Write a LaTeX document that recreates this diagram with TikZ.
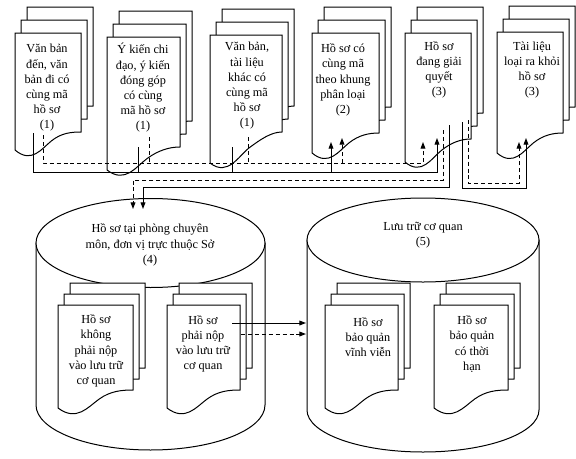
\documentclass[tikz,border=0pt]{standalone}
\usepackage{fontspec}
\setmainfont{Liberation Serif}
\usetikzlibrary{arrows.meta}

\tikzset{every picture/.style={line width=0.75pt}}
\tikzset{
  sheet/.style={draw, fill=white},
  txt/.style={align=center, inner sep=0.75pt, font=\fontsize{9.2}{11.4}\selectfont},
  flow/.style={-{Triangle[length=5pt,width=3.6pt]}},
  dashflow/.style={dash pattern=on 3pt off 2.2pt},
  % stack of three pages: width, left bottom, right bottom, shift up
  pics/docstack/.style n args={4}{code={
    \begin{scope}[yscale=-1]
    \foreach \k in {2,1,0}{
      \draw[sheet, shift={(6*\k,-#4*\k)}] (0,0) -- (#1,0) -- (#1,#3)
        .. controls (0.85*#1,#3) and (0.7*#1,{(#2+#3)/2-8}) .. (0.55*#1,{(#2+#3)/2})
        .. controls (0.4*#1,{(#2+#3)/2+8}) and (0.25*#1,#2+14) .. (0,#2) -- cycle;
    }
    \end{scope}
  }}
}

\begin{document}
\begin{tikzpicture}[x=0.75pt,y=0.75pt,yscale=-1,xscale=1]
\useasboundingbox (0,0) rectangle (576,458);

%Cylinder A
\draw[sheet] (36,243) -- (36,405) arc[start angle=180,end angle=0,x radius=114.5,y radius=45] -- (265,243) -- cycle;
\draw[sheet] (150.5,243) ellipse [x radius=114.5,y radius=44.5];
%Cylinder B
\draw[sheet] (307,240) -- (307,410) arc[start angle=180,end angle=0,x radius=116,y radius=42] -- (539,240) -- cycle;
\draw[sheet] (423,240) ellipse [x radius=116,y radius=42];

%Top row of documents
\pic at (15,33) {docstack={66}{117}{99}{13}};
\pic at (107,37) {docstack={73}{133}{110}{13}};
\pic at (210,35) {docstack={72}{128}{97}{13}};
\pic at (312,33) {docstack={67}{120}{100}{13}};
\pic at (405,33) {docstack={66}{129}{106}{13}};
\pic at (497,32) {docstack={66}{121}{101}{13}};
%Documents inside the cylinders
\pic at (58,305) {docstack={75}{103}{85}{11}};
\pic at (167,305) {docstack={73}{103}{85}{11}};
\pic at (325,305) {docstack={73}{103}{85}{11}};
\pic at (434,305) {docstack={74}{103}{85}{11}};

% Text Nodes
\node[txt] (vb) at (47,88) {Văn bản\\đến, văn\\bản đi có\\cùng mã\\hồ sơ\\(1)};
\node[txt] (yk) at (143,88) {Ý kiến chi\\đạo, ý kiến\\đóng góp\\có cùng\\mã hồ sơ\\(1)};
\node[txt] (tl) at (247,86) {Văn bản,\\tài liệu\\khác có\\cùng mã\\hồ sơ\\(1)};
\node[txt] (kp) at (343,80) {Hồ sơ có\\cùng mã\\theo khung\\phân loại\\(2)};
\node[txt] (gq) at (439,70) {Hồ sơ\\đang giải\\quyết\\(3)};
\node[txt] (lr) at (532,70) {Tài liệu\\loại ra khỏi\\hồ sơ\\(3)};
\node[txt] (pcm) at (150,245) {Hồ sơ tại phòng chuyên\\môn, đơn vị trực thuộc Sở\\(4)};
\node[txt] (lcq) at (423,235) {Lưu trữ cơ quan\\(5)};
\node[txt] (knp) at (96,351) {Hồ sơ\\không\\phải nộp\\vào lưu trữ\\cơ quan};
\node[txt] (pn) at (203,344) {Hồ sơ\\phải nộp\\vào lưu trữ\\cơ quan};
\node[txt] (vv) at (368,337) {Hồ sơ\\bảo quản\\vĩnh viễn};
\node[txt] (th) at (472,344) {Hồ sơ\\bảo quản\\có thời\\hạn};

% connector ends
\coordinate (o1s) at (33,133);  \coordinate (o1d) at (43,135);
\coordinate (o2s) at (138,147); \coordinate (o2d) at (149,137);
\coordinate (o3s) at (232,147); \coordinate (o3d) at (248,137);
\coordinate (i4s) at (331,142); \coordinate (i4d) at (342,138);
\coordinate (i5s) at (437,138); \coordinate (i5d) at (423,142);
\coordinate (o5s) at (449,125); \coordinate (o5d) at (443,130);
\coordinate (o5t) at (462,122); \coordinate (o5e) at (468,120);
\coordinate (i6s) at (526,138); \coordinate (i6d) at (519,142);
\coordinate (cAs) at (143,209); \coordinate (cAd) at (133,209);
\coordinate (o8s) at (232,323); \coordinate (o8d) at (241,334);
\coordinate (cBs) at (306,323); \coordinate (cBd) at (306,334);
\coordinate (busS) at (0,172);  \coordinate (busD) at (0,163);
\coordinate (busA) at (0,187);  \coordinate (busAd) at (0,180);
\coordinate (busB) at (0,188);  \coordinate (busBd) at (0,183);

% solid lines
\draw[flow] (o1s) |- (i5s |- busS) -- (i5s);
\draw (o2s) -- (o2s |- busS);
\draw (o3s) -- (o3s |- busS);
\draw[flow] (i4s |- busS) -- (i4s);
\draw[flow] (o5s) -- (o5s |- busA) -| (cAs);
\draw[flow] (o5t) -- (o5t |- busB) -| (i6s);
\draw[flow] (o8s) -- (cBs);
% dashed lines
\draw[flow, dashflow] (o1d) |- (i5d |- busD) -- (i5d);
\draw[dashflow] (o2d) -- (o2d |- busD);
\draw[dashflow] (o3d) -- (o3d |- busD);
\draw[flow, dashflow] (i4d |- busD) -- (i4d);
\draw[flow, dashflow] (o5d) -- (o5d |- busAd) -| (cAd);
\draw[flow, dashflow] (o5e) -- (o5e |- busBd) -| (i6d);
\draw[flow, dashflow] (o8d) -- (cBd);

\end{tikzpicture}
\end{document}
